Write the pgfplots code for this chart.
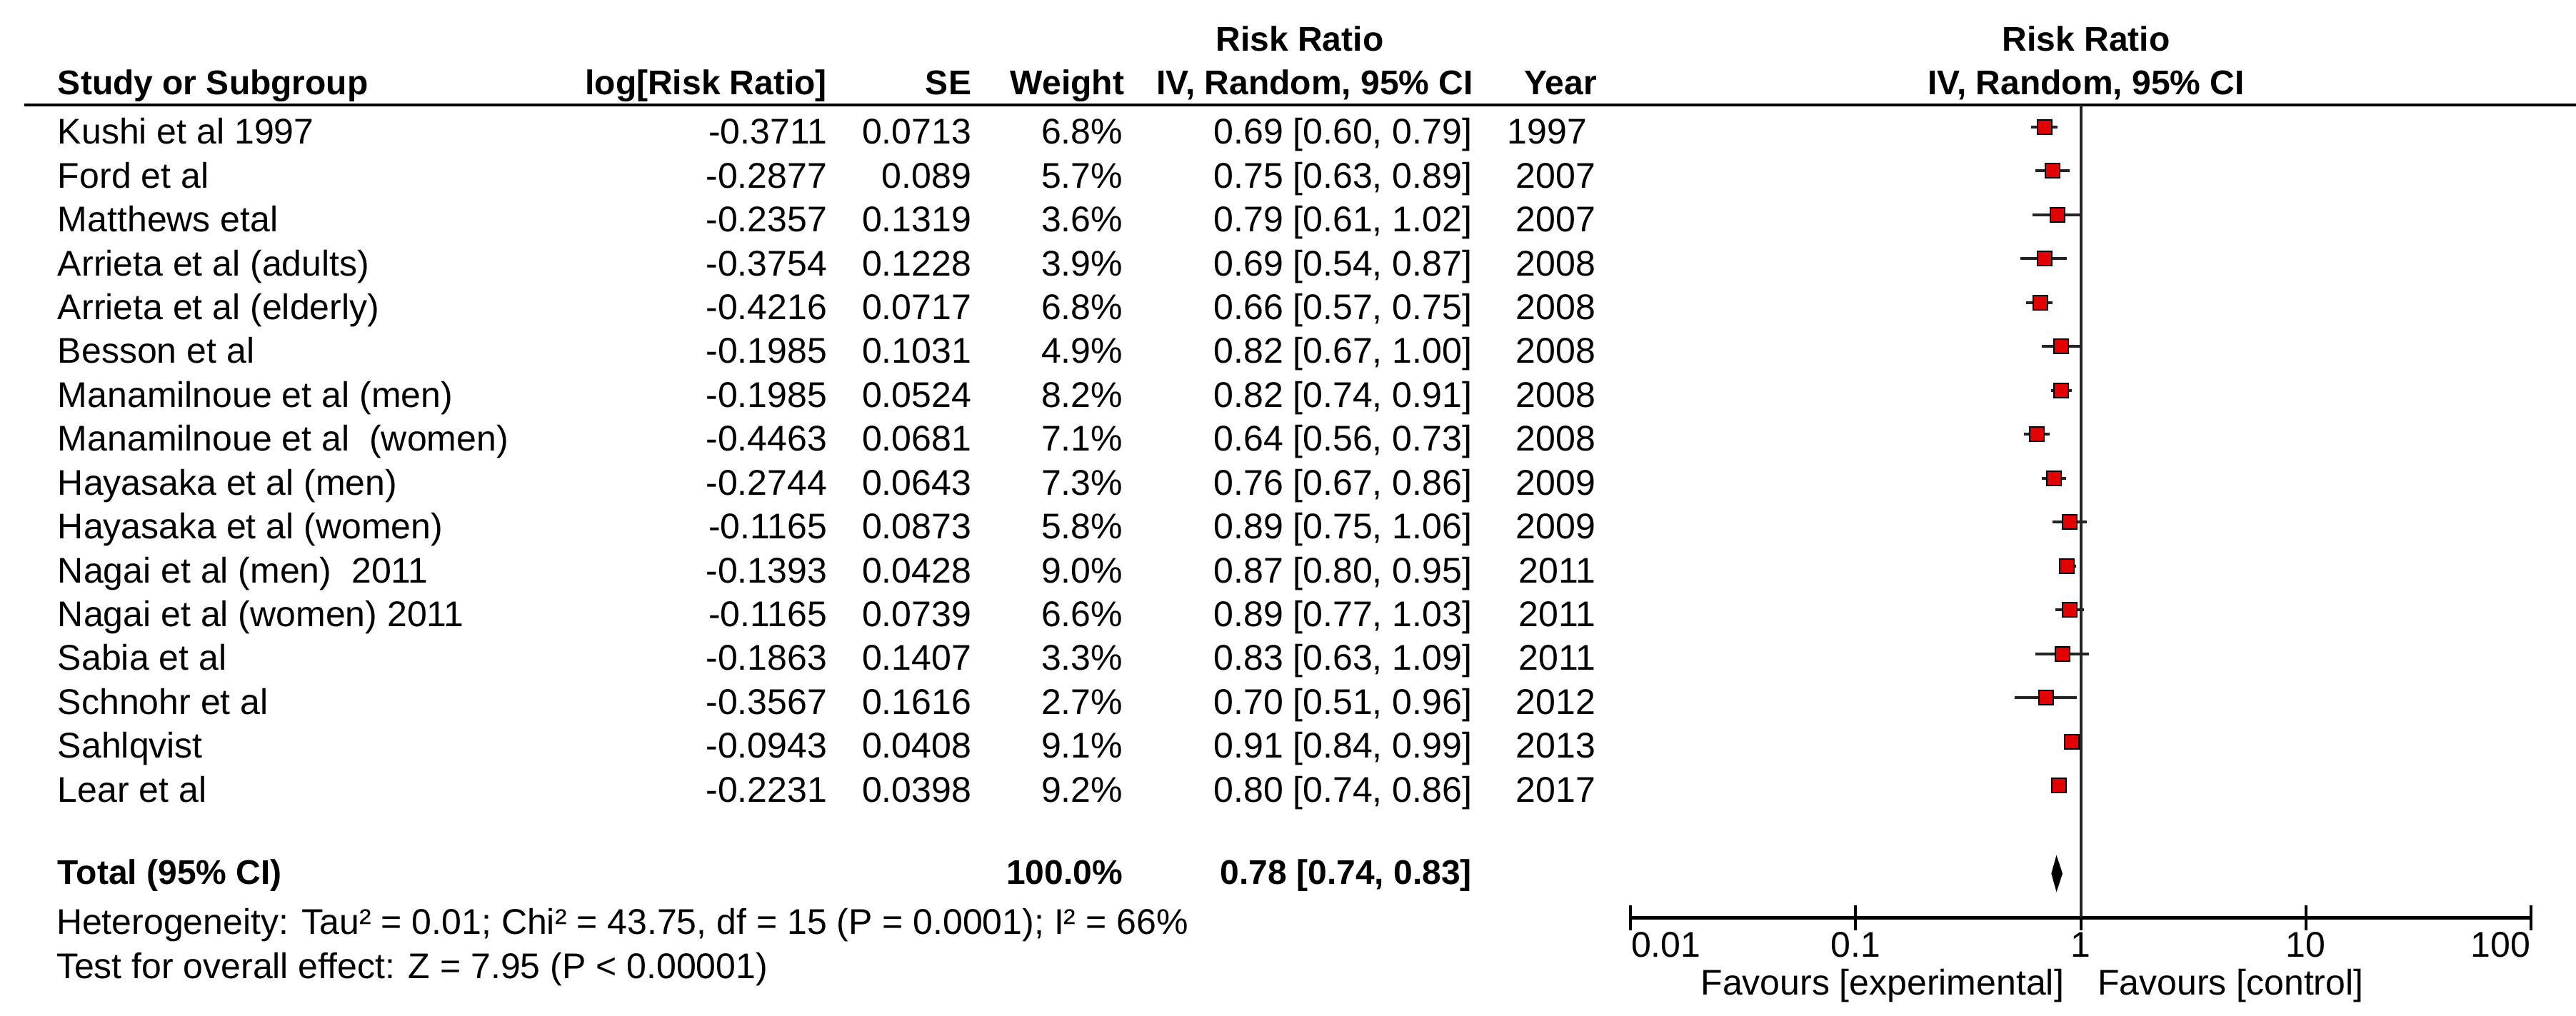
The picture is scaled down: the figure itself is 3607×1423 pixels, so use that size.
\documentclass[border=0pt]{standalone}
\usepackage{fontspec}
\setmainfont{Liberation Sans}
\usepackage{pgfplots}
\pgfplotsset{compat=1.18}
\usepackage{pgfplotstable}

\definecolor{boxred}{RGB}{226,0,0}
\definecolor{linegray}{RGB}{35,35,35}

% point estimates and weights, y = 19 - row number
\pgfplotstableread{
y  rr    w
18 0.69  6.8
17 0.75  5.7
16 0.79  3.6
15 0.69  3.9
14 0.66  6.8
13 0.82  4.9
12 0.82  8.2
11 0.64  7.1
10 0.76  7.3
9  0.89  5.8
8  0.87  9.0
7  0.89  6.6
6  0.83  3.3
5  0.70  2.7
4  0.91  9.1
3  0.80  9.2
}\studies

% confidence intervals, one segment per study
\pgfplotstableread{
x    y
0.60 18
0.79 18
nan  nan
0.63 17
0.89 17
nan  nan
0.61 16
1.02 16
nan  nan
0.54 15
0.87 15
nan  nan
0.57 14
0.75 14
nan  nan
0.67 13
1.00 13
nan  nan
0.74 12
0.91 12
nan  nan
0.56 11
0.73 11
nan  nan
0.67 10
0.86 10
nan  nan
0.75 9
1.06 9
nan  nan
0.80 8
0.95 8
nan  nan
0.77 7
1.03 7
nan  nan
0.63 6
1.09 6
nan  nan
0.51 5
0.96 5
nan  nan
0.84 4
0.99 4
nan  nan
0.74 3
0.86 3
}\cis

\newcommand\fnt{\fontsize{10}{12}\selectfont}
\newcommand\bfnt{\fontsize{9.6}{11}\selectfont\bfseries}

% one line of the table: row, study, log RR, SE, weight, CI, year
\newcommand\srow[7]{%
  \pgfmathsetmacro\yb{202+61.4*(#1-1)}%
  \node[anchor=base west] at (80,\yb) {#2};
  \node[anchor=base east] at (1159,\yb) {#3};
  \node[anchor=base east] at (1361,\yb) {#4};
  \node[anchor=base east] at (1573,\yb) {#5};
  \node[anchor=base east] at (2062,\yb) {#6};
  \node[anchor=base east] at (2235,\yb) {#7};
}

\begin{document}
\begin{tikzpicture}[every node/.style={inner sep=0pt, font=\fnt}]
\begin{scope}[x=0.2pt, y=-0.2pt]
\useasboundingbox (0,0) rectangle (3607,1423);
\coordinate (axorigin) at (2283,1285);

% headers
\begin{scope}[every node/.append style={font=\bfnt}]
\node[anchor=base] at (1820,72) {Risk Ratio};
\node[anchor=base] at (2921,72) {Risk Ratio};
\node[anchor=base west] at (80,133) {Study or Subgroup};
\node[anchor=base east] at (1159,133) {log[Risk Ratio]};
\node[anchor=base east] at (1361,133) {SE};
\node[anchor=base east] at (1575,133) {Weight};
\node[anchor=base] at (1841,133) {IV, Random, 95\% CI};
\node[anchor=base east] at (2237,133) {Year};
\node[anchor=base] at (2921,133) {IV, Random, 95\% CI};
\end{scope}
\draw[line width=0.9pt] (34,147) -- (3607,147);

\srow{1}{Kushi et al 1997}{-0.3711}{0.0713}{6.8\%}{0.69 [0.60, 0.79]}{1997\kern2.4pt}
\srow{2}{Ford et al}{-0.2877}{0.089}{5.7\%}{0.75 [0.63, 0.89]}{2007}
\srow{3}{Matthews etal}{-0.2357}{0.1319}{3.6\%}{0.79 [0.61, 1.02]}{2007}
\srow{4}{Arrieta et al (adults)}{-0.3754}{0.1228}{3.9\%}{0.69 [0.54, 0.87]}{2008}
\srow{5}{Arrieta et al (elderly)}{-0.4216}{0.0717}{6.8\%}{0.66 [0.57, 0.75]}{2008}
\srow{6}{Besson et al}{-0.1985}{0.1031}{4.9\%}{0.82 [0.67, 1.00]}{2008}
\srow{7}{Manamilnoue et al (men)}{-0.1985}{0.0524}{8.2\%}{0.82 [0.74, 0.91]}{2008}
\srow{8}{Manamilnoue et al\ \ (women)}{-0.4463}{0.0681}{7.1\%}{0.64 [0.56, 0.73]}{2008}
\srow{9}{Hayasaka et al (men)}{-0.2744}{0.0643}{7.3\%}{0.76 [0.67, 0.86]}{2009}
\srow{10}{Hayasaka et al (women)}{-0.1165}{0.0873}{5.8\%}{0.89 [0.75, 1.06]}{2009}
\srow{11}{Nagai et al (men)\ \ 2011}{-0.1393}{0.0428}{9.0\%}{0.87 [0.80, 0.95]}{2011}
\srow{12}{Nagai et al (women) 2011}{-0.1165}{0.0739}{6.6\%}{0.89 [0.77, 1.03]}{2011}
\srow{13}{Sabia et al}{-0.1863}{0.1407}{3.3\%}{0.83 [0.63, 1.09]}{2011}
\srow{14}{Schnohr et al}{-0.3567}{0.1616}{2.7\%}{0.70 [0.51, 0.96]}{2012}
\srow{15}{Sahlqvist}{-0.0943}{0.0408}{9.1\%}{0.91 [0.84, 0.99]}{2013}
\srow{16}{Lear et al}{-0.2231}{0.0398}{9.2\%}{0.80 [0.74, 0.86]}{2017}

% total and tests
\begin{scope}[every node/.append style={font=\bfnt}]
\node[anchor=base west] at (80,1238) {Total (95\% CI)};
\node[anchor=base east] at (1573,1238) {100.0\%};
\node[anchor=base east] at (2062,1238) {0.78 [0.74, 0.83]};
\end{scope}
\node[anchor=base west] at (78,1308) {Heterogeneity: Tau² = 0.01; Chi² = 43.75, df = 15 (P = 0.0001); I² = 66\%};
\node[anchor=base west] at (78,1370) {Test for overall effect: Z = 7.95 (P < 0.00001)};

\node[anchor=base east] at (2891,1393) {Favours [experimental]};
\node[anchor=base west] at (2936,1393) {Favours [control]};
\end{scope}

\begin{axis}[
  at={(axorigin)}, anchor=south west,
  scale only axis, width=252.2pt, height=227.6pt,
  xmode=log, xmin=0.01, xmax=100, ymin=0, ymax=18.5,
  enlargelimits=false, clip=false,
  axis x line=bottom, axis y line=none,
  x axis line style={-, line width=1pt, black},
  xtick={0.01,0.1,1,10,100}, xticklabels={}, xminorticks=false,
  ytick=\empty,
  tick align=center, major tick length=7pt,
  every tick/.style={black, line width=0.8pt},
  unbounded coords=jump,
]
\addplot[linegray, line width=0.8pt] coordinates {(1,0) (1,18.5)};
\addplot[linegray, line width=0.8pt, mark=none] table[x=x, y=y] {\cis};
\addplot[scatter, only marks, mark=square*,
  visualization depends on={0.1*(3.5*sqrt(\thisrow{w})+4) \as \msz},
  scatter/@pre marker code/.append style={/tikz/mark size=\msz pt},
  scatter/use mapped color={draw=none, fill=boxred}]
  table[x=rr, y=y] {\studies};
% pooled estimate
\addplot[fill=black, draw=none] coordinates {(0.74,1) (0.78,1.42) (0.83,1) (0.78,0.58)} -- cycle;
% tick labels
\node[anchor=base west] at (axis cs:0.01,0) [yshift=-11pt] {0.01};
\node[anchor=base] at (axis cs:0.1,0) [yshift=-11pt] {0.1};
\node[anchor=base] at (axis cs:1,0) [yshift=-11pt] {1};
\node[anchor=base] at (axis cs:10,0) [yshift=-11pt] {10};
\node[anchor=base east] at (axis cs:100,0) [yshift=-11pt] {100};
\end{axis}
\end{tikzpicture}
\end{document}
